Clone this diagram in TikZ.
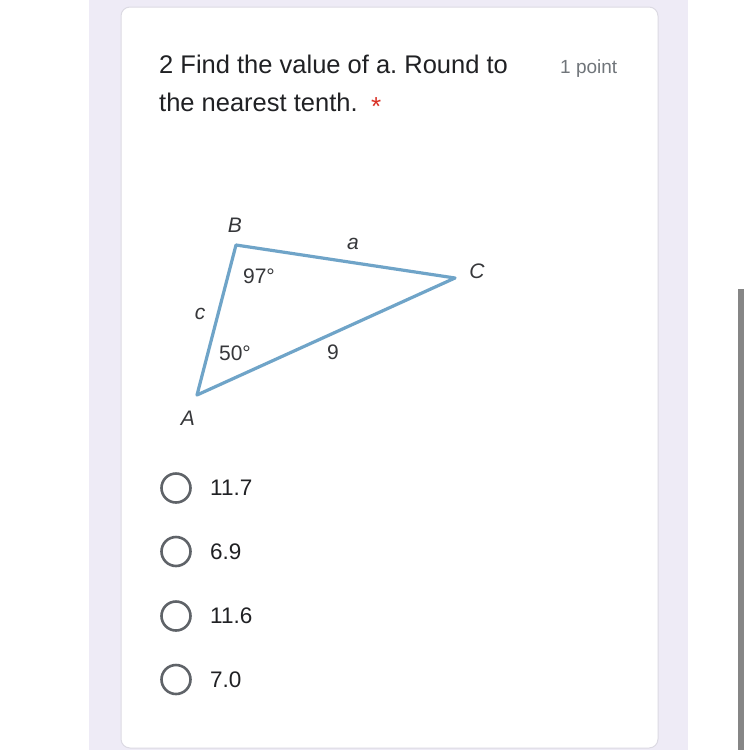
\documentclass[tikz,border=0pt]{standalone}
\usepackage{fontspec}
\setmainfont{Liberation Sans}
\frenchspacing
\definecolor{formbg}{HTML}{EEEBF6}
\definecolor{cardline}{HTML}{DCDAE3}
\definecolor{tri}{HTML}{6FA4C8}
\definecolor{ink}{HTML}{202124}
\definecolor{soft}{HTML}{70757A}
\definecolor{ring}{HTML}{5F6368}
\definecolor{req}{HTML}{D93025}

\def\card{(121,7) rectangle (658,748)}

\tikzset{
  question/.style={anchor=base west, inner sep=0pt, text=ink, font=\fontsize{25.5}{30}\selectfont},
  vlabel/.style={inner sep=0pt, text=ink!90, font=\fontsize{21}{24}\selectfont\itshape},
  anglabel/.style={inner sep=0pt, text=ink!90, font=\fontsize{21}{24}\selectfont},
  radio/.style={circle, draw=ring, line width=2.6pt, minimum size=29pt, inner sep=0pt},
  answer/.style={anchor=base west, inner sep=0pt, text=ink, font=\fontsize{22.5}{26}\selectfont},
}

\begin{document}
\begin{tikzpicture}[x=1pt, y=-1pt]
  \useasboundingbox (0,0) rectangle (750,750);
  \fill[white] (0,0) rectangle (750,750);
  \fill[formbg] (89,0) rectangle (688,750);
  \draw[cardline, fill=white, line width=1pt, rounded corners=9pt] \card;
  \fill[gray!95] (738,289) rectangle (744,750);

  % question
  \node[question] (line1) at (159,73) {2 Find the value of a. Round to};
  \node[question] (line2) at (159,111) {the nearest tenth.};
  \node[anchor=base west, inner sep=0pt, text=req, font=\fontsize{26}{30}\selectfont] (star) at (371,115) {*};
  \node[anchor=base west, inner sep=0pt, text=soft, font=\fontsize{19}{22}\selectfont] (pts) at (560,73) {1 point};

  % triangle
  \coordinate (A) at (197,395);
  \coordinate (B) at (236,245);
  \coordinate (C) at (455,278);
  \draw[tri, line width=3.2pt, line join=round] (A) -- (B) -- (C) -- cycle;
  \node[vlabel] (lA) at (188,418) {A};
  \node[vlabel] (lB) at (235,225) {B};
  \node[vlabel] (lC) at (477,271) {C};
  \node[vlabel] (la) at (353,244) {a};
  \node[vlabel] (lc) at (200,314) {c};
  \node[anglabel] (angB) at (259,276) {97°};
  \node[anglabel] (angA) at (235,353) {50°};
  \node[anglabel] (lb) at (333,352) {9};

  % choices
  \node[radio] (r1) at (176,488) {};
  \node[radio] (r2) at (176,551.5) {};
  \node[radio] (r3) at (176,616) {};
  \node[radio] (r4) at (176,679.5) {};
  \node[answer] (c1) at (210,495) {11.7};
  \node[answer] (c2) at (210,559) {6.9};
  \node[answer] (c3) at (210,623) {11.6};
  \node[answer] (c4) at (210,687) {7.0};
\end{tikzpicture}
\end{document}
